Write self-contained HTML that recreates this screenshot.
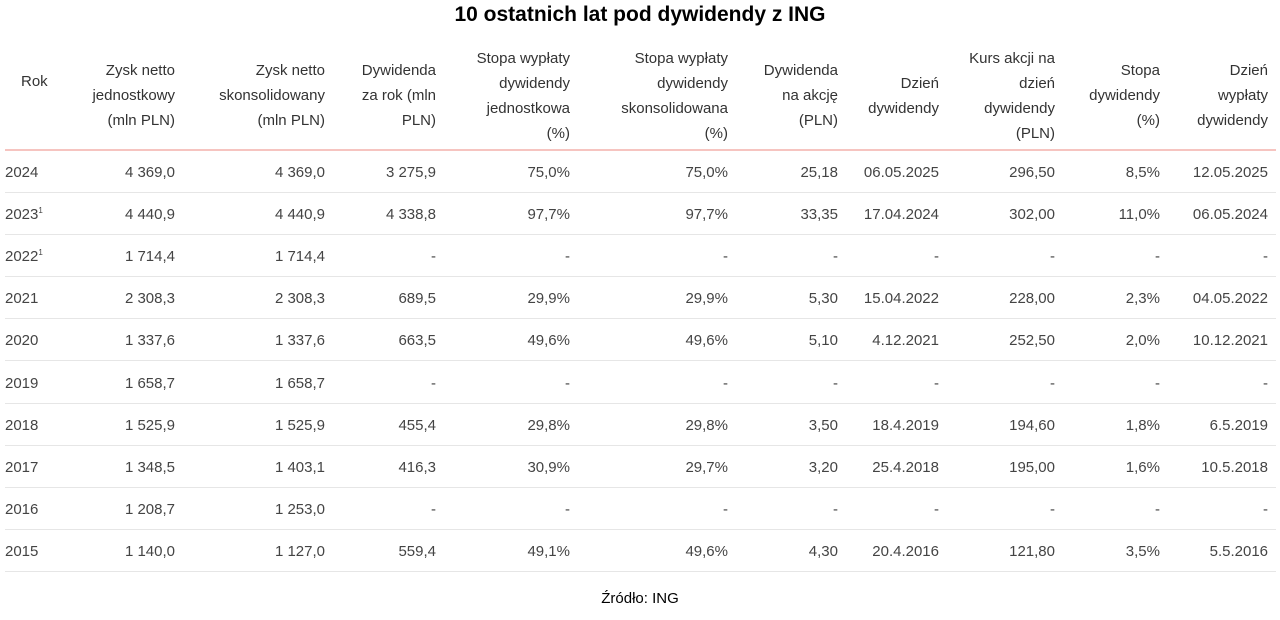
<!DOCTYPE html>
<html><head><meta charset="utf-8"><style>
body{margin:0;width:1280px;height:620px;background:#fff;font-family:"Liberation Sans",sans-serif;color:#3a3a3a;position:relative;overflow:hidden}
h1{position:absolute;top:3px;left:0;width:1280px;text-align:center;margin:0;font-size:21px;font-weight:bold;color:#000}
table{position:absolute;left:5px;top:42px;border-collapse:collapse;table-layout:fixed;font-size:15px}
td,th{padding:0;text-align:right;white-space:nowrap}
th{font-weight:normal;height:107px;line-height:25px;vertical-align:middle;color:#333;border-bottom:2px solid #f6c4c0}
td{height:39.1px;padding-top:2px;border-bottom:1px solid #e6e6e6;color:#444}
.l{text-align:left}
.src{position:absolute;top:590px;left:0;width:1280px;text-align:center;font-size:15px;color:#000}
sup{font-size:8px}
</style></head><body>
<h1>10 ostatnich lat pod dywidendy z ING</h1>
<table>
<colgroup><col style="width:55px"><col style="width:115px"><col style="width:150px"><col style="width:111px"><col style="width:134px"><col style="width:158px"><col style="width:110px"><col style="width:101px"><col style="width:116px"><col style="width:105px"><col style="width:116px"></colgroup>
<tr><th class="l" style="padding-left:16px;vertical-align:top;padding-top:27px;height:80px">Rok</th><th>Zysk netto<br>jednostkowy<br>(mln PLN)</th><th>Zysk netto<br>skonsolidowany<br>(mln PLN)</th><th>Dywidenda<br>za rok (mln<br>PLN)</th><th>Stopa wypłaty<br>dywidendy<br>jednostkowa<br>(%)</th><th>Stopa wypłaty<br>dywidendy<br>skonsolidowana<br>(%)</th><th>Dywidenda<br>na akcję<br>(PLN)</th><th>Dzień<br>dywidendy</th><th>Kurs akcji na<br>dzień<br>dywidendy<br>(PLN)</th><th>Stopa<br>dywidendy<br>(%)</th><th style="padding-right:8px">Dzień<br>wypłaty<br>dywidendy</th></tr>
<tr><td class="l">2024</td><td>4 369,0</td><td>4 369,0</td><td>3 275,9</td><td>75,0%</td><td>75,0%</td><td>25,18</td><td>06.05.2025</td><td>296,50</td><td>8,5%</td><td style="padding-right:8px">12.05.2025</td></tr>
<tr><td class="l">2023<sup>1</sup></td><td>4 440,9</td><td>4 440,9</td><td>4 338,8</td><td>97,7%</td><td>97,7%</td><td>33,35</td><td>17.04.2024</td><td>302,00</td><td>11,0%</td><td style="padding-right:8px">06.05.2024</td></tr>
<tr><td class="l">2022<sup>1</sup></td><td>1 714,4</td><td>1 714,4</td><td>-</td><td>-</td><td>-</td><td>-</td><td>-</td><td>-</td><td>-</td><td style="padding-right:8px">-</td></tr>
<tr><td class="l">2021</td><td>2 308,3</td><td>2 308,3</td><td>689,5</td><td>29,9%</td><td>29,9%</td><td>5,30</td><td>15.04.2022</td><td>228,00</td><td>2,3%</td><td style="padding-right:8px">04.05.2022</td></tr>
<tr><td class="l">2020</td><td>1 337,6</td><td>1 337,6</td><td>663,5</td><td>49,6%</td><td>49,6%</td><td>5,10</td><td>4.12.2021</td><td>252,50</td><td>2,0%</td><td style="padding-right:8px">10.12.2021</td></tr>
<tr><td class="l">2019</td><td>1 658,7</td><td>1 658,7</td><td>-</td><td>-</td><td>-</td><td>-</td><td>-</td><td>-</td><td>-</td><td style="padding-right:8px">-</td></tr>
<tr><td class="l">2018</td><td>1 525,9</td><td>1 525,9</td><td>455,4</td><td>29,8%</td><td>29,8%</td><td>3,50</td><td>18.4.2019</td><td>194,60</td><td>1,8%</td><td style="padding-right:8px">6.5.2019</td></tr>
<tr><td class="l">2017</td><td>1 348,5</td><td>1 403,1</td><td>416,3</td><td>30,9%</td><td>29,7%</td><td>3,20</td><td>25.4.2018</td><td>195,00</td><td>1,6%</td><td style="padding-right:8px">10.5.2018</td></tr>
<tr><td class="l">2016</td><td>1 208,7</td><td>1 253,0</td><td>-</td><td>-</td><td>-</td><td>-</td><td>-</td><td>-</td><td>-</td><td style="padding-right:8px">-</td></tr>
<tr><td class="l">2015</td><td>1 140,0</td><td>1 127,0</td><td>559,4</td><td>49,1%</td><td>49,6%</td><td>4,30</td><td>20.4.2016</td><td>121,80</td><td>3,5%</td><td style="padding-right:8px">5.5.2016</td></tr>
</table>
<div class="src">Źródło: ING</div>
</body></html>
